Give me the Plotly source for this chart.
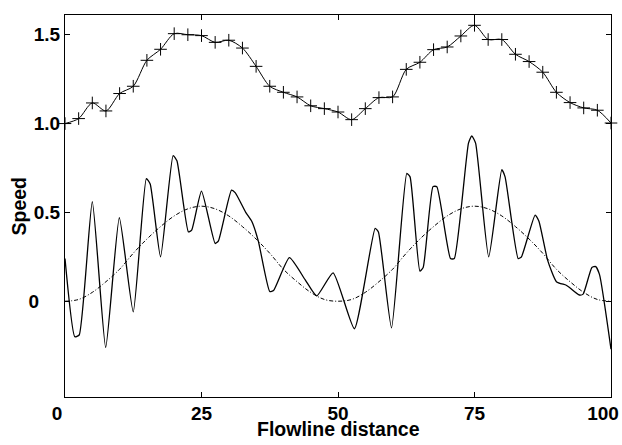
import plotly.graph_objects as go

# Upper series (with + markers), sampled every 2.5 units
upper_x = [0, 2.5, 5, 7.5, 10, 12.5, 15, 17.5, 20, 22.5, 25, 27.5, 30, 32.5, 35, 37.5, 40,
           42.5, 45, 47.5, 50, 52.5, 55, 57.5, 60, 62.5, 65, 67.5, 70, 72.5, 75, 77.5, 80,
           82.5, 85, 87.5, 90, 92.5, 95, 97.5, 100]
upper_y = [1.0, 1.028, 1.116, 1.071, 1.169, 1.21, 1.356, 1.418, 1.506, 1.500, 1.495, 1.457,
           1.469, 1.425, 1.322, 1.21, 1.176, 1.15, 1.10, 1.084, 1.065, 1.022, 1.084, 1.146,
           1.150, 1.305, 1.345, 1.416, 1.431, 1.493, 1.553, 1.473, 1.473, 1.39, 1.349, 1.289,
           1.176, 1.118, 1.088, 1.075, 1.003]

# Lower oscillating series
lower_x = [0, 1.8, 2.6, 5.0, 7.45, 9.95, 12.5, 14.9, 15.6, 17.5, 19.8, 20.5, 22.6, 23.2, 25.0,
           27.5, 28.1, 30.5, 31.2, 33.1, 34.2, 35.4, 37.5, 38.2, 41.1, 44.0, 46.1, 49.1, 53.0,
           56.8, 57.4, 59.8, 62.6, 63.2, 65.0, 65.6, 67.4, 68.1, 70.6, 71.3, 73.9, 74.5, 75.2,
           77.6, 80.0, 80.6, 83.0, 83.6, 86.1, 86.8, 88.4, 90.0, 91.8, 92.5, 94.2, 94.9, 96.5,
           97.2, 97.9, 100]
lower_y = [0.24, -0.20, -0.19, 0.56, -0.26, 0.47, -0.06, 0.69, 0.66, 0.25, 0.82, 0.79, 0.39,
           0.40, 0.62, 0.325, 0.34, 0.625, 0.61, 0.50, 0.45, 0.34, 0.055, 0.06, 0.245, 0.12,
           0.03, 0.16, -0.155, 0.41, 0.39, -0.15, 0.72, 0.70, 0.17, 0.19, 0.645, 0.645, 0.24,
           0.24, 0.89, 0.93, 0.89, 0.25, 0.74, 0.70, 0.24, 0.25, 0.485, 0.45, 0.23, 0.11, 0.09,
           0.075, 0.035, 0.04, 0.19, 0.195, 0.15, -0.27]

# Smooth dash-dot series, read every 2.5 units
smooth_x = upper_x
smooth_y = [0.0, 0.01, 0.05, 0.11, 0.18, 0.27, 0.35, 0.42, 0.48, 0.52, 0.535, 0.52, 0.48,
            0.42, 0.35, 0.27, 0.18, 0.11, 0.05, 0.01, 0.0, 0.01, 0.05, 0.11, 0.18, 0.27,
            0.35, 0.42, 0.48, 0.52, 0.535, 0.52, 0.48, 0.42, 0.35, 0.27, 0.18, 0.11, 0.05,
            0.01, 0.0]

x_ticks = [0, 25, 50, 75, 100]
x_ticktext = ["0\u00a0\u00a0\u00a0", "25", "50", "75", "100\u00a0\u00a0\u00a0"]
y_ticks = [0, 0.5, 1.0, 1.5]
y_ticktext = ["0\u00a0\u00a0\u00a0\u00a0", "0.5", "1.0", "1.5"]
x_title = "Flowline distance"
y_title = "Speed"

FONT = "Liberation Sans, Arial, sans-serif"
Y_RANGE = [-0.539, 1.611]

fig = go.Figure()
fig.add_trace(go.Scatter(x=smooth_x, y=smooth_y, mode="lines",
                         line=dict(color="black", width=1, dash="4px,2px,1px,2px", shape="spline"),
                         showlegend=False))
fig.add_trace(go.Scatter(x=lower_x, y=lower_y, mode="lines",
                         line=dict(color="black", width=1.3, shape="spline", smoothing=0.5),
                         showlegend=False))
fig.add_trace(go.Scatter(x=upper_x, y=upper_y, mode="lines+markers",
                         line=dict(color="black", width=1, shape="spline", smoothing=0.8),
                         marker=dict(symbol="cross-thin", size=9, color="black",
                                     line=dict(color="black", width=1)),
                         cliponaxis=False, showlegend=False))

fig.update_layout(
    width=622, height=445,
    margin=dict(l=65, r=11, t=15, b=48, autoexpand=False),
    paper_bgcolor="white", plot_bgcolor="white",
    font=dict(family=FONT, size=19, color="black"),
    annotations=[
        dict(text="<b>%s</b>" % y_title, xref="paper", yref="paper",
             x=(18.5 - 65) / 546, y=0.5, xanchor="center", yanchor="middle",
             textangle=-90, showarrow=False,
             font=dict(family=FONT, size=19.5, color="black")),
        dict(text="<b>%s</b>" % x_title, xref="paper", yref="paper",
             x=(338 - 65) / 546, y=(397 - 429.5) / 382, xanchor="center", yanchor="middle",
             showarrow=False, font=dict(family=FONT, size=19.5, color="black")),
    ],
)
axis_common = dict(showgrid=False, zeroline=False, showline=True, linecolor="black",
                   linewidth=1, mirror="ticks", ticks="inside", ticklen=5,
                   tickcolor="black", tickwidth=1, ticklabeloverflow="allow",
                   automargin=False,
                   tickfont=dict(family=FONT, size=19, color="black", weight="bold"))
fig.update_xaxes(range=[0, 100], tickvals=x_ticks, ticktext=x_ticktext,
                 ticklabelstandoff=-1, **axis_common)
fig.update_yaxes(range=Y_RANGE, tickvals=y_ticks, ticktext=y_ticktext,
                 **axis_common)

fig.write_html("out.html")
